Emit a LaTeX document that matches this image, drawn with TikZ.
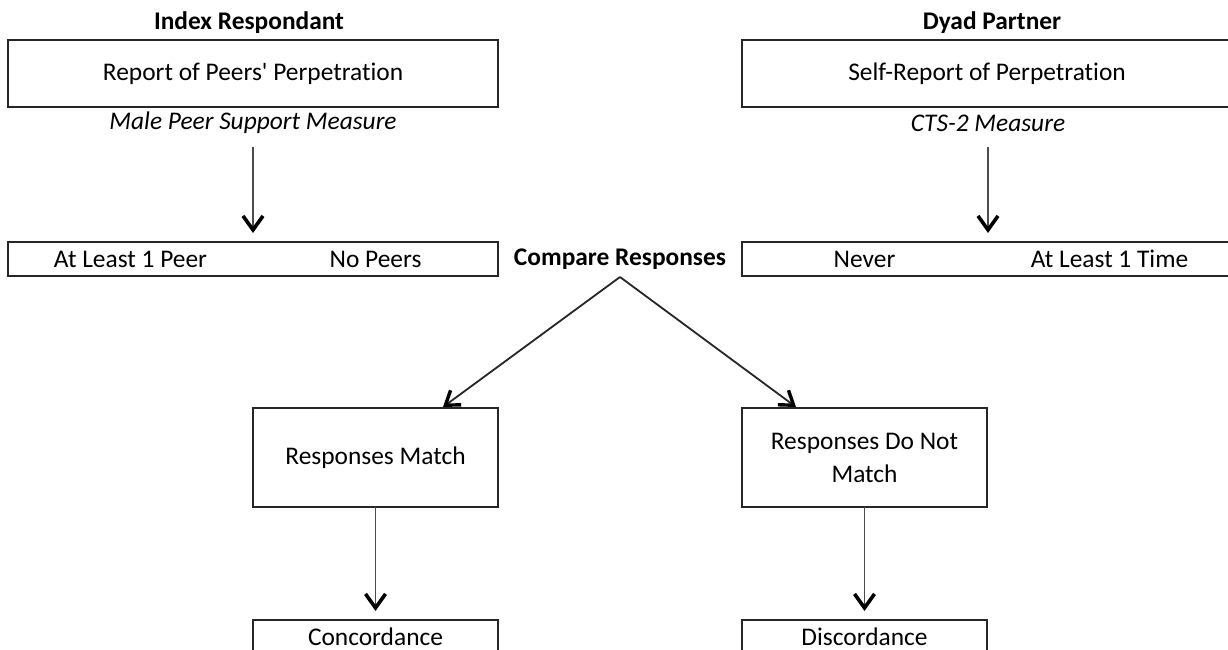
\documentclass[tikz,border=0pt]{standalone}
\usepackage{fontspec}
\setmainfont[Ligatures={NoCommon}]{Carlito}
\usetikzlibrary{arrows.meta,calc}
\begin{document}
\begin{tikzpicture}[x=1pt,y=-1pt,
  every node/.style={font=\fontsize{25.4}{33}\selectfont, inner sep=0pt, outer sep=0pt},
  head/.style={font=\fontsize{25.4}{33}\selectfont\bfseries},
  meas/.style={font=\fontsize{25.4}{33}\selectfont\itshape},
  boxline/.style={draw=black!85, line width=2pt},
  bigbox/.style={boxline, minimum width=490pt, minimum height=67pt},
  catbox/.style={boxline, minimum width=490pt, minimum height=34pt},
  midbox/.style={boxline, minimum width=245pt, minimum height=99pt, align=center},
  endbox/.style={boxline, minimum width=245pt, minimum height=34pt},
  arr/.style={draw=black!70, line width=1.8pt, -{Straight Barb[length=14pt,width=20pt,line width=3.6pt,color=black]}},
  darr/.style={draw=black!85, line width=1.8pt, -{Straight Barb[length=13pt,width=18pt,line width=3.4pt,color=black]}}
]
\useasboundingbox (0,0) rectangle (1228,650);
\clip (0,0) rectangle (1228,650);
\fill[white] (0,0) rectangle (1228,650);

% left column
\node[head] (hl) at (249,23) {Index Respondant};
\node[bigbox] (bl) at (253,73.5) {Report of Peers\textquotesingle{} Perpetration};
\node[meas] (ml) at (253,123) {Male Peer Support Measure};
\node[catbox] (cl) at (253,259) {};
\node (cl1) at (130.5,259) {At Least 1 Peer};
\node (cl2) at (375.5,259) {No Peers};

% right column
\node[head] (hr) at (992,23) {Dyad Partner};
\node[bigbox] (br) at (987,73.5) {Self-Report of Perpetration};
\node[meas] (mr) at (988,123) {CTS-2 Measure};
\node[catbox] (cr) at (987,259) {};
\node (cr1) at (864.5,259) {Never};
\node (cr2) at (1109.5,259) {At Least 1 Time};

% compare
\node[head] (cmp) at (620,259) {Compare Responses};

% middle boxes
\node[midbox] (match) at (375.5,457.5) {Responses Match};
\node[midbox] (nomatch) at (864.5,457.5) {Responses Do Not\\Match};

% end boxes
\node[endbox] (conc) at (375.5,637) {Concordance};
\node[endbox] (disc) at (864.5,637) {Discordance};

% connectors
\draw[arr] ([yshift=-24pt]ml.center) -- ([yshift=9pt]cl.north -| ml.center);
\draw[arr] ([yshift=-24pt]mr.center) -- ([yshift=9pt]cr.north -| mr.center);
\draw[darr] ([yshift=-18pt]cmp.center) -- ([xshift=-55pt,yshift=1pt]match.north east);
\draw[darr] ([yshift=-18pt]cmp.center) -- ([xshift=54pt,yshift=1pt]nomatch.north west);
\draw[arr] (match.south) -- ([yshift=9pt]conc.north);
\draw[arr] (nomatch.south) -- ([yshift=9pt]disc.north);
\end{tikzpicture}
\end{document}
